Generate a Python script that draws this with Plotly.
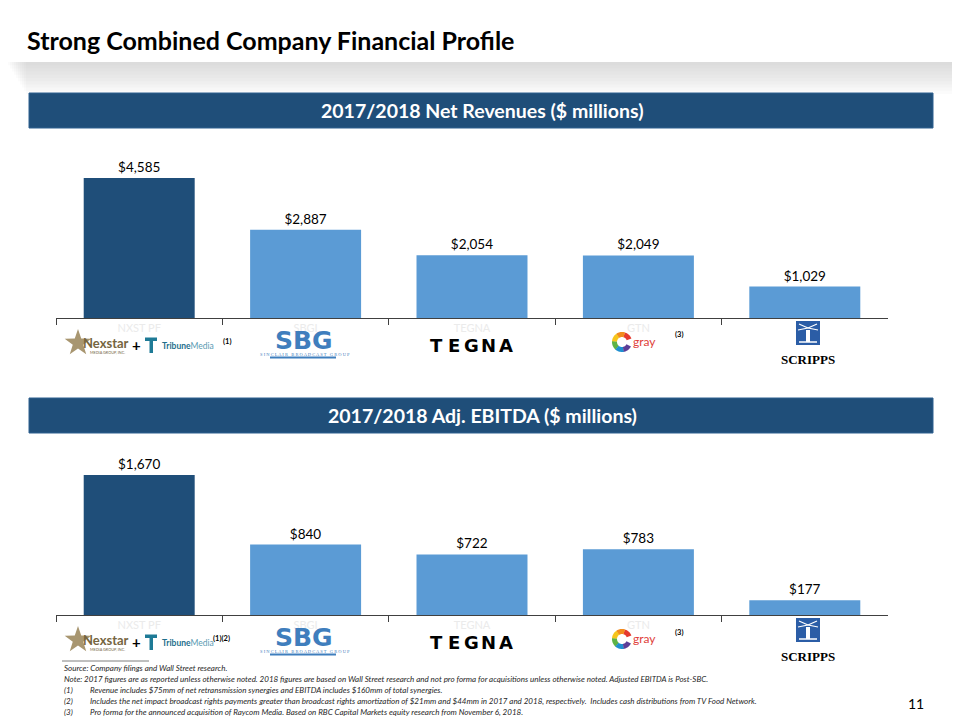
import math
import plotly.graph_objects as go

# ---------------- data ----------------
categories = ["NXST PF", "SBGI", "TEGNA", "GTN", "SSP"]
net_revenues = [4585, 2887, 2054, 2049, 1029]
adj_ebitda = [1670, 840, 722, 783, 177]
bar_colors = ["#1F4E79", "#5B9BD5", "#5B9BD5", "#5B9BD5", "#5B9BD5"]

title_text = "Strong Combined Company Financial Profile"
header1 = "2017/2018 Net Revenues ($ millions)"
header2 = "2017/2018 Adj. EBITDA ($ millions)"
source_line = "Source: Company filings and Wall Street research."
note_line = ("Note: 2017 figures are as reported unless otherwise noted. 2018 figures are based on Wall Street "
             "research and not pro forma for acquisitions unless otherwise noted. Adjusted EBITDA is Post-SBC.")
footnote_nums = ["(1)", "(2)", "(3)"]
footnote_texts = [
    "Revenue includes $75mm of net retransmission synergies and EBITDA includes $160mm of total synergies.",
    "Includes the net impact broadcast rights payments greater than broadcast rights amortization of $21mm and "
    "$44mm in 2017 and 2018, respectively.  Includes cash distributions from TV Food Network.",
    "Pro forma for the announced acquisition of Raycom Media. Based on RBC Capital Markets equity research from November 6, 2018.",
]
page_number = "11"

W, H = 960, 720
OFF = 8  # page body margin of the html page


def X(px):
    return (px - OFF) / W


def Y(py):
    return 1 - (py - OFF) / H


fig = go.Figure()

label_font = dict(family="Lato", size=13.5, color="#000000")
fig.add_trace(go.Bar(
    x=categories, y=net_revenues, marker=dict(color=bar_colors, line=dict(width=0)),
    texttemplate="$%{y:,}", textposition="outside", cliponaxis=False, textfont=label_font,
    xaxis="x", yaxis="y", hoverinfo="skip",
))
fig.add_trace(go.Bar(
    x=categories, y=adj_ebitda, marker=dict(color=bar_colors, line=dict(width=0)),
    texttemplate="$%{y:,}", textposition="outside", cliponaxis=False, textfont=label_font,
    xaxis="x2", yaxis="y2", hoverinfo="skip",
))

xcommon = dict(
    type="category", tickson="boundaries", ticks="outside", ticklen=6, tickcolor="#404040",
    showline=True, linecolor="#404040", linewidth=1, showgrid=False, zeroline=False,
    tickfont=dict(family="Lato", size=11, color="#EBEBEB"), fixedrange=True,
)
ycommon = dict(visible=False, showgrid=False, zeroline=False, fixedrange=True)

shapes = []
annotations = []

# top dotted line
shapes.append(dict(type="line", xref="paper", yref="paper", x0=0, x1=1, y0=Y(1.5), y1=Y(1.5),
                   line=dict(color="#D8D8D8", width=1, dash="dot")))

# grey gradient band under the title
for k in range(10):
    shapes.append(dict(type="rect", xref="paper", yref="paper", layer="below",
                       x0=X(8 + k * 2), x1=X(968), y0=Y(62), y1=Y(62 + 3.2 * (k + 1)),
                       fillcolor="#BDB8AE", opacity=0.055, line=dict(width=0)))

# header boxes
for (y0, y1, txt_h) in [(93, 128, header1), (398, 433, header2)]:
    shapes.append(dict(type="rect", xref="paper", yref="paper", x0=X(29), x1=X(933), y0=Y(y1), y1=Y(y0),
                       fillcolor="#1F4E79", line=dict(color="#2E6190", width=1)))
    annotations.append(dict(xref="paper", yref="paper", x=X(482), y=Y((y0 + y1) / 2), text="<b>%s</b>" % txt_h,
                            showarrow=False, font=dict(family="Lato", size=19.5, color="#FFFFFF"),
                            xanchor="center", yanchor="middle"))

annotations.append(dict(xref="paper", yref="paper", x=X(25), y=Y(40), text="<b>%s</b>" % title_text,
                        showarrow=False, font=dict(family="Lato", size=25, color="#000000"),
                        xanchor="left", yanchor="middle"))


def path_from(points):
    s = "M %f %f" % (X(points[0][0]), Y(points[0][1]))
    for p in points[1:]:
        s += " L %f %f" % (X(p[0]), Y(p[1]))
    return s + " Z"


def arc_path(cx, cy, r_out, r_in, a0, a1, n=12):
    pts = []
    for i in range(n + 1):
        a = math.radians(a0 + (a1 - a0) * i / n)
        pts.append((cx + r_out * math.cos(a), cy - r_out * math.sin(a)))
    for i in range(n, -1, -1):
        a = math.radians(a0 + (a1 - a0) * i / n)
        pts.append((cx + r_in * math.cos(a), cy - r_in * math.sin(a)))
    return path_from(pts)


def txt(x, y, text, family, size, color, xanchor="center"):
    annotations.append(dict(xref="paper", yref="paper", x=X(x), y=Y(y), text=text, showarrow=False,
                            font=dict(family=family, size=size, color=color),
                            xanchor=xanchor, yanchor="middle"))


def add_logos(dy, nx_note):
    # Nexstar star
    cx, cy = 78, 343 + dy
    pts = []
    for i in range(10):
        a = math.radians(90 + i * 36)
        r = 14 if i % 2 == 0 else 5.5
        pts.append((cx + r * math.cos(a), cy - r * math.sin(a)))
    shapes.append(dict(type="path", xref="paper", yref="paper", path=path_from(pts),
                       fillcolor="#A89670", line=dict(width=0)))
    txt(106, 343 + dy, "<b>Nexstar</b>", "Lato", 13, "#75653F")
    txt(107, 352 + dy, "MEDIA GROUP, INC.", "Lato", 3.8, "#75653F")
    txt(136, 345 + dy, "<b>+</b>", "Lato", 15, "#000000")
    # Tribune T icon
    shapes.append(dict(type="rect", xref="paper", yref="paper", x0=X(145), x1=X(157), y0=Y(341 + dy),
                       y1=Y(337.5 + dy), fillcolor="#1E7A96", line=dict(width=0)))
    shapes.append(dict(type="rect", xref="paper", yref="paper", x0=X(149.5), x1=X(153), y0=Y(353 + dy),
                       y1=Y(340 + dy), fillcolor="#1E7A96", line=dict(width=0)))
    txt(160, 346 + dy, "<b>Tribune</b><span style='color:#5A9AB2'>Media</span>", "Lato", 8.5,
        "#1E6F8C", xanchor="left")
    txt(211 if nx_note == "(1)(2)" else 221, 341 + dy, "<b>%s</b>" % nx_note, "Lato", 7.5, "#000000",
        xanchor="left")
    # SBG
    txt(304, 340 + dy, "<b>SBG</b>", "DejaVu Sans", 25, "#3F7EBD")
    for k in range(3):
        shapes.append(dict(type="line", xref="paper", yref="paper", x0=X(268), x1=X(340),
                           y0=Y(336.5 + 4.5 * k + dy), y1=Y(336.5 + 4.5 * k + dy),
                           line=dict(color="#FFFFFF", width=1)))
    txt(305, 354 + dy, "S I N C L A I R   B R O A D C A S T   G R O U P", "Liberation Serif", 4.5, "#3F7EBD")
    shapes.append(dict(type="rect", xref="paper", yref="paper", x0=X(270), x1=X(336), y0=Y(358.5 + dy),
                       y1=Y(356.5 + dy), fillcolor="#3F7EBD", line=dict(width=0)))
    # TEGNA (letters spaced wide)
    for i, ch in enumerate("TEGNA"):
        txt(436 + 17.5 * i, 345 + dy, "<b>%s</b>" % ch, "DejaVu Sans", 18, "#000000")
    # Gray logo
    gcol = ["#E53A2F", "#F28C1E", "#F6C51B", "#5DB346", "#1F8FD0", "#5B3E97"]
    for i, c in enumerate(gcol):
        shapes.append(dict(type="path", xref="paper", yref="paper",
                           path=arc_path(622, 342 + dy, 10, 5, 20 + i * 52, 20 + (i + 1) * 52 + 2),
                           fillcolor=c, line=dict(width=0)))
    txt(631, 341 + dy, "gray", "Lato", 12, "#E0413A", xanchor="left")
    txt(673, 335 + dy, "<b>(3)</b>", "Lato", 7.5, "#000000", xanchor="left")
    # Scripps icon
    shapes.append(dict(type="rect", xref="paper", yref="paper", x0=X(796), x1=X(820), y0=Y(345 + dy),
                       y1=Y(321 + dy), fillcolor="#2B5DA6", line=dict(width=0)))
    shapes.append(dict(type="rect", xref="paper", yref="paper", x0=X(806), x1=X(810), y0=Y(342 + dy),
                       y1=Y(330 + dy), fillcolor="#FFFFFF", line=dict(width=0)))
    shapes.append(dict(type="line", xref="paper", yref="paper", x0=X(799), x1=X(817), y0=Y(342 + dy),
                       y1=Y(342 + dy), line=dict(color="#FFFFFF", width=1.5)))
    for (xa, ya) in [(799, 324), (817, 324), (798, 330), (818, 330)]:
        shapes.append(dict(type="line", xref="paper", yref="paper", x0=X(808), x1=X(xa), y0=Y(328 + dy),
                           y1=Y(ya + dy), line=dict(color="#FFFFFF", width=1.2)))
    txt(808, 359 + dy, "<b>SCRIPPS</b>", "Liberation Serif", 13, "#000000")


add_logos(0, "(1)")
add_logos(297, "(1)(2)")

# footnotes
shapes.append(dict(type="line", xref="paper", yref="paper", x0=X(62), x1=X(149), y0=Y(661), y1=Y(661),
                   line=dict(color="#7F7F7F", width=1)))
FN_FAM, FN_SIZE, FN_COL = "Lato", 8, "#262626"
txt(62, 668, "<i>%s</i>" % source_line, FN_FAM, FN_SIZE, FN_COL, xanchor="left")
txt(62, 678.5, "<i>%s</i>" % note_line, FN_FAM, FN_SIZE, FN_COL, xanchor="left")
for i, (n, t) in enumerate(zip(footnote_nums, footnote_texts)):
    yy = 689.5 + 11 * i
    txt(62, yy, "<i>%s</i>" % n, FN_FAM, FN_SIZE, FN_COL, xanchor="left")
    txt(88, yy, "<i>%s</i>" % t, FN_FAM, FN_SIZE, FN_COL, xanchor="left")

txt(916, 703, page_number, "Lato", 14, "#000000")

fig.update_layout(
    width=W, height=H, margin=dict(l=0, r=0, t=0, b=0),
    paper_bgcolor="#FFFFFF", plot_bgcolor="rgba(0,0,0,0)",
    showlegend=False, bargap=0.333,
    xaxis=dict(domain=[X(56), X(888)], anchor="y", **xcommon),
    yaxis=dict(domain=[Y(318), Y(140)], range=[0, 5830], anchor="x", **ycommon),
    xaxis2=dict(domain=[X(56), X(888)], anchor="y2", **xcommon),
    yaxis2=dict(domain=[Y(615), Y(440)], range=[0, 2087], anchor="x2", **ycommon),
    shapes=shapes, annotations=annotations,
)

fig.write_html("out.html")
